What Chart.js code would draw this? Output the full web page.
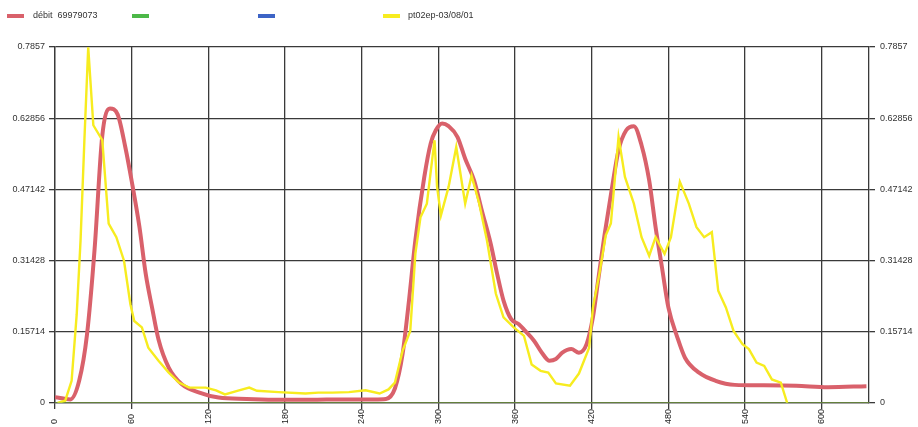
<!DOCTYPE html>
<html>
<head>
<meta charset="utf-8">
<script src="https://cdn.jsdelivr.net/npm/chart.js@4/dist/chart.umd.min.js"></script>
<style>
  html, body { margin: 0; padding: 0; background: #fff; }
  #wrap { position: relative; width: 918px; height: 427px; font-family: "Liberation Sans", Arial, sans-serif; }
  #chartBox { position: absolute; left: 0; top: 0; width: 918px; height: 427px; }
  .lg { position: absolute; top: 14px; height: 4px; width: 17px; }
  .lt { position: absolute; top: 9px; font-size: 9px; color: #333; white-space: pre; line-height: 12px; }
</style>
</head>
<body>
<div id="wrap">
  <div id="chartBox"><canvas id="c"></canvas></div>
  <div id="legend"></div>
</div>
<script>
// ---- data ----
const seriesNames = ['débit  69979073', '', '', 'pt02ep-03/08/01'];
const seriesColors = ['#d9616b', '#4cb848', '#3d64c6', '#f7ec1f'];

const redT = [0, 12, 19, 25, 31, 37, 43, 49, 55, 60, 66, 71, 76, 81, 89, 99, 113, 128, 150, 175, 200, 225, 250, 259, 266, 272, 277, 282, 289, 294, 298, 303, 308, 315, 321, 328, 334, 341, 346, 351, 357, 363, 368, 375, 381, 387, 392, 397, 404, 410, 416, 421, 425, 430, 436, 441, 447, 453, 459, 465, 470, 475, 480, 487, 493, 504, 517, 532, 553, 580, 605, 635];
const redV = [0.013, 0.008, 0.05, 0.15, 0.34, 0.59, 0.65, 0.637, 0.565, 0.49, 0.39, 0.285, 0.21, 0.14, 0.078, 0.042, 0.023, 0.012, 0.009, 0.007, 0.007, 0.008, 0.008, 0.009, 0.032, 0.108, 0.226, 0.359, 0.499, 0.573, 0.602, 0.617, 0.611, 0.587, 0.539, 0.491, 0.425, 0.351, 0.285, 0.226, 0.185, 0.174, 0.159, 0.137, 0.111, 0.093, 0.097, 0.111, 0.119, 0.111, 0.13, 0.19, 0.27, 0.37, 0.477, 0.558, 0.602, 0.611, 0.569, 0.491, 0.388, 0.299, 0.211, 0.145, 0.1, 0.067, 0.049, 0.04, 0.039, 0.038, 0.035, 0.037];

const greenT = [0, 637];
const greenV = [0, 0];

const blueT = [];
const blueV = [];

const yelT = [2, 8, 13, 17, 20, 23, 26, 30, 37, 42, 48, 54, 59, 62, 68, 73, 81, 89, 97, 105, 118, 126, 133, 144, 152, 158, 175, 196, 206, 217, 230, 243, 254, 261, 266, 272, 278, 282, 286, 291, 297, 299, 302, 308, 314, 321, 326, 332, 338, 345, 351, 359, 367, 373, 380, 386, 392, 403, 410, 418, 421, 426, 431, 435, 441, 446, 453, 459, 465, 470, 477, 482, 489, 496, 502, 508, 514, 519, 525, 531, 538, 543, 549, 555, 561, 568, 573];
const yelV = [0, 0.005, 0.049, 0.196, 0.359, 0.58, 0.785, 0.613, 0.58, 0.396, 0.366, 0.314, 0.218, 0.181, 0.167, 0.122, 0.093, 0.067, 0.045, 0.034, 0.034, 0.028, 0.019, 0.028, 0.034, 0.027, 0.024, 0.021, 0.023, 0.023, 0.024, 0.028, 0.021, 0.03, 0.045, 0.115, 0.159, 0.329, 0.41, 0.44, 0.58, 0.477, 0.414, 0.477, 0.565, 0.44, 0.502, 0.44, 0.359, 0.241, 0.189, 0.167, 0.148, 0.085, 0.071, 0.067, 0.043, 0.038, 0.065, 0.122, 0.211, 0.285, 0.37, 0.396, 0.587, 0.499, 0.44, 0.366, 0.325, 0.366, 0.329, 0.366, 0.488, 0.44, 0.388, 0.366, 0.377, 0.248, 0.211, 0.159, 0.13, 0.119, 0.089, 0.082, 0.052, 0.045, 0];

const xTicks = [0, 60, 120, 180, 240, 300, 360, 420, 480, 540, 600];
const xTickLabels = ['0', '60', '120', '180', '240', '300', '360', '420', '480', '540', '600'];
const xMax = 637;
const yTicks = [0, 0.15714, 0.31428, 0.47142, 0.62856, 0.7857];
const yTickLabels = ['0', '0.15714', '0.31428', '0.47142', '0.62856', '0.7857'];

// ---- legend (HTML) ----
const legendPos = [[7, 33], [132, null], [258, null], [383, 408]];
const lg = document.getElementById('legend');
seriesNames.forEach((n, i) => {
  const s = document.createElement('div');
  s.className = 'lg';
  s.style.left = legendPos[i][0] + 'px';
  s.style.background = seriesColors[i];
  lg.appendChild(s);
  if (n) {
    const t = document.createElement('div');
    t.className = 'lt';
    t.style.left = legendPos[i][1] + 'px';
    t.textContent = n;
    lg.appendChild(t);
  }
});

// ---- chart ----
const zip = (xs, ys) => xs.map((x, i) => ({ x: x, y: ys[i] }));
const font = { family: '"Liberation Sans", Arial, sans-serif', size: 9 };
const gridColor = '#3a3a3a';
// bottom-align rotated labels: trailing spaces (2 spaces = 1 digit width)
const padLabel = s => s + '  '.repeat(Math.max(0, 3 - s.length));

new Chart(document.getElementById('c'), {
  type: 'line',
  data: {
    datasets: [
      { label: seriesNames[0], data: zip(redT, redV), borderColor: seriesColors[0], borderWidth: 4, pointRadius: 0, cubicInterpolationMode: 'monotone', order: 2, yAxisID: 'y' },
      { label: 'green', data: zip(greenT, greenV), borderColor: '#8cc63f', borderWidth: 1.2, pointRadius: 0, order: 0, yAxisID: 'y' },
      { label: 'blue', data: zip(blueT, blueV), borderColor: seriesColors[2], borderWidth: 2, pointRadius: 0, order: 3, yAxisID: 'y' },
      { label: seriesNames[3], data: zip(yelT, yelV), borderColor: seriesColors[3], borderWidth: 2.4, pointRadius: 0, tension: 0, order: 1, yAxisID: 'y' }
    ]
  },
  options: {
    responsive: true,
    maintainAspectRatio: false,
    animation: false,
    layout: { padding: { top: 47, left: 0, right: 0, bottom: 0 } },
    plugins: { legend: { display: false }, tooltip: { enabled: false } },
    scales: {
      x: {
        type: 'linear', min: 0, max: xMax,
        afterBuildTicks: s => { s.ticks = xTicks.map(v => ({ value: v })); },
        afterFit: s => { s.height = 24; },
        ticks: { minRotation: 90, maxRotation: 90, autoSkip: false, font: font, color: '#222', padding: 0,
                 callback: (v, i) => padLabel(xTickLabels[i]) },
        grid: { color: gridColor, lineWidth: 1.3, tickLength: 6 },
        border: { color: gridColor, width: 1.3 }
      },
      y: {
        position: 'left', min: 0, max: 0.7857,
        afterBuildTicks: s => { s.ticks = yTicks.map(v => ({ value: v })); },
        afterFit: s => { s.width = 55; },
        ticks: { font: font, color: '#333', padding: 4, callback: (v, i) => yTickLabels[i] },
        grid: { color: gridColor, lineWidth: 1.3, tickLength: 6 },
        border: { color: gridColor, width: 1.3 }
      },
      y2: {
        position: 'right', min: 0, max: 0.7857,
        afterBuildTicks: s => { s.ticks = yTicks.map(v => ({ value: v })); },
        afterFit: s => { s.width = 49; },
        ticks: { font: font, color: '#333', padding: 5, callback: (v, i) => yTickLabels[i] },
        grid: { drawOnChartArea: false, color: gridColor, lineWidth: 1.3, tickLength: 6 },
        border: { color: gridColor, width: 1.3 }
      }
    }
  }
});
</script>
</body>
</html>
